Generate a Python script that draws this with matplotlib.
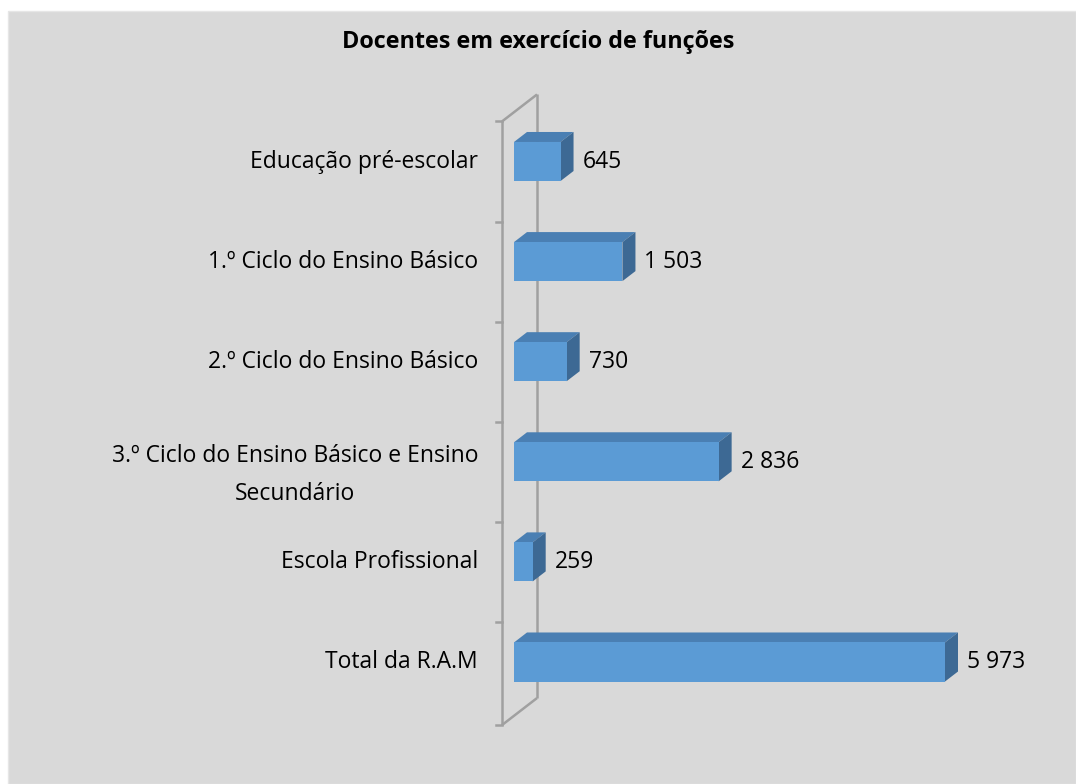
import matplotlib
matplotlib.use("Agg")
import matplotlib.pyplot as plt
from matplotlib.patches import Polygon, Rectangle
from matplotlib.lines import Line2D
import numpy as np

# ---- data ----
categories = [
    "Educação pré-escolar",
    "1.º Ciclo do Ensino Básico",
    "2.º Ciclo do Ensino Básico",
    "3.º Ciclo do Ensino Básico e Ensino\nSecundário",
    "Escola Profissional",
    "Total da R.A.M",
]
values = [645, 1503, 730, 2836, 259, 5973]
value_labels = ["645", "1 503", "730", "2 836", "259", "5 973"]
title = "Docentes em exercício de funções"

# ---- style ----
BG = "#d9d9d9"
FRONT = "#5b9bd5"
TOP = "#4a7fb3"
SIDE = "#3d6994"
WALL = "#a0a0a0"
FONT = "Open Sans"
FS = 16.5

W, H = 1076, 784
fig = plt.figure(figsize=(W / 100, H / 100), dpi=100)
fig.patch.set_facecolor("white")
fig.add_artist(Rectangle((8 / W, 0), 1 - 8 / W, 1 - 11 / H, transform=fig.transFigure,
                         facecolor=BG, edgecolor="#e6e6e6", linewidth=1, zorder=0))

# axes: x=0 at pixel 514, 5973 at pixel 945 ; bar centres 161.5 .. 662 (image y)
px_per_unit = 431 / 5973
xmax = 7000
left_px = 514
width_px = xmax * px_per_unit
top_px = 161.5 - 50.05
bot_px = 662 + 50.05
ax = fig.add_axes([left_px / W, (H - bot_px) / H, width_px / W, (bot_px - top_px) / H])
ax.set_xlim(0, xmax)
ax.set_ylim(len(categories) - 0.5, -0.5)
ax.patch.set_alpha(0)
for s in ax.spines.values():
    s.set_visible(False)
ax.set_xticks([])
ax.set_yticks([])

inv = ax.transData.inverted()


def off(xd, yd, dxp, dyp):
    p = ax.transData.transform((xd, yd))
    return inv.transform((p[0] + dxp, p[1] + dyp))


# ---- 3D wall ----
nb = len(categories)
wall_front_dx = -12
wall_back_dx = 23
wall_dy = 27
tick_pos = np.arange(nb + 1) - 0.4
top_front = off(0, tick_pos[0], wall_front_dx, 0)
bot_front = off(0, tick_pos[-1] + 0.03, wall_front_dx, 0)
top_back = off(0, tick_pos[0], wall_back_dx, wall_dy)
bot_back = off(0, tick_pos[-1] + 0.03, wall_back_dx, wall_dy)
lw = 1.8
for a, b in [(top_front, bot_front), (top_back, bot_back), (top_front, top_back), (bot_front, bot_back)]:
    ax.add_line(Line2D([a[0], b[0]], [a[1], b[1]], color=WALL, lw=lw, clip_on=False, zorder=1,
                       solid_capstyle="butt"))
for i, t in enumerate(tick_pos):
    tt = t + (0.03 if i == nb else 0)
    a = off(0, tt, wall_front_dx, 0)
    b = off(0, tt, wall_front_dx - 6, 0)
    ax.add_line(Line2D([a[0], b[0]], [a[1], b[1]], color=WALL, lw=lw, clip_on=False, zorder=1))

# ---- 3D bars ----
h = 0.39
ddx, ddy = 13, 10
for i, v in enumerate(values):
    y0, y1 = i - h / 2, i + h / 2   # y0 top (inverted axis)
    ax.barh(i, v, height=h, color=FRONT, edgecolor="none", zorder=3)
    top_face = [(0, y0), (v, y0), tuple(off(v, y0, ddx, ddy)), tuple(off(0, y0, ddx, ddy))]
    side_face = [(v, y0), (v, y1), tuple(off(v, y1, ddx, ddy)), tuple(off(v, y0, ddx, ddy))]
    ax.add_patch(Polygon(top_face, closed=True, facecolor=TOP, edgecolor="none", zorder=2))
    ax.add_patch(Polygon(side_face, closed=True, facecolor=SIDE, edgecolor="none", zorder=2))
    lx = off(v, i, ddx + 9, 0)[0]
    ax.text(lx, i, value_labels[i], ha="left", va="center", fontsize=FS,
            family=FONT, color="black", zorder=4)

# ---- category labels ----
for i, c in enumerate(categories):
    shift = -13 if "\n" in c else 0
    lx, ly = off(0, i, -36, shift)
    ax.text(lx, ly, c, ha="right", va="center", multialignment="center",
            fontsize=FS, family=FONT, color="black", linespacing=1.75)

fig.text(538 / W, 1 - 42 / H, title, ha="center", va="center", fontsize=16.8,
         family=FONT, fontweight="bold", color="black")

fig.savefig("out.png", dpi=100, facecolor=fig.get_facecolor())
